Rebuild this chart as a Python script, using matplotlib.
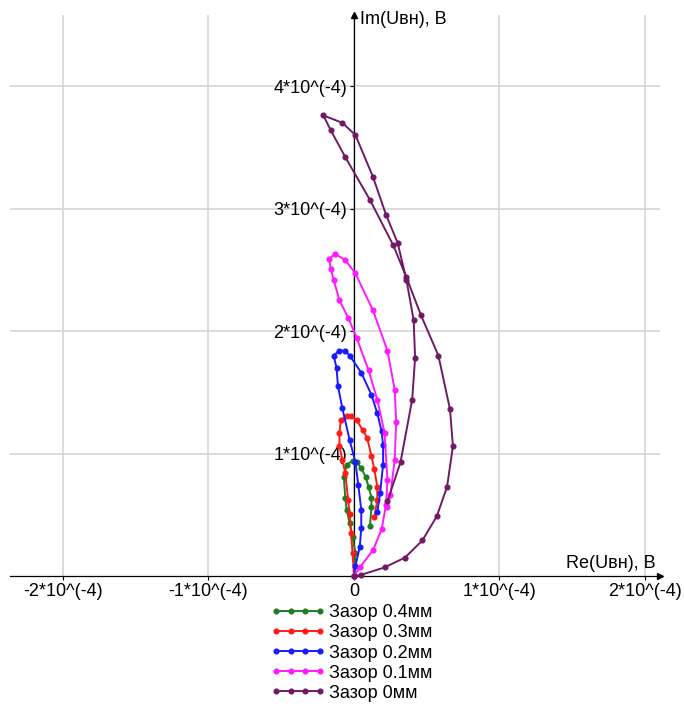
import numpy as np
import matplotlib
matplotlib.use("Agg")
import matplotlib.pyplot as plt

plt.rcParams['font.family'] = ['Liberation Sans', 'DejaVu Sans']

# hodograph points, units of 1e-4 V
re_04 = [0, 0.01, -0.01, -0.03, -0.05, -0.06, -0.07, -0.05, -0.01, 0.02, 0.05, 0.08, 0.10, 0.12, 0.12, 0.11]
im_04 = [0, 0.19, 0.32, 0.43, 0.54, 0.64, 0.81, 0.91, 0.94, 0.93, 0.88, 0.81, 0.73, 0.64, 0.56, 0.41]

re_03 = [0, -0.01, -0.02, -0.03, -0.04, -0.06, -0.08, -0.10, -0.10, -0.09, -0.05, -0.02, 0.02, 0.06, 0.09,
         0.12, 0.14, 0.16, 0.16, 0.14]
im_03 = [0, 0.19, 0.35, 0.51, 0.62, 0.84, 0.95, 1.06, 1.17, 1.27, 1.31, 1.31, 1.27, 1.19, 1.13,
         0.98, 0.87, 0.73, 0.62, 0.48]

re_02 = [0, 0.01, 0.04, 0.05, 0.05, 0.03, 0.01, -0.03, -0.08, -0.11, -0.12, -0.14, -0.10, -0.06, -0.03,
         0.05, 0.12, 0.16, 0.19, 0.20, 0.20, 0.18, 0.16]
im_02 = [0, 0.08, 0.24, 0.39, 0.54, 0.74, 0.93, 1.11, 1.37, 1.55, 1.70, 1.80, 1.84, 1.84, 1.80,
         1.66, 1.48, 1.33, 1.18, 1.07, 0.91, 0.68, 0.52]

re_01 = [0, 0.04, 0.13, 0.19, 0.22, 0.23, 0.21, 0.16, 0.10, 0.02, -0.04, -0.10, -0.14, -0.16, -0.17,
         -0.13, -0.06, 0.01, 0.13, 0.23, 0.28, 0.29, 0.28, 0.25, 0.23]
im_01 = [0, 0.07, 0.21, 0.38, 0.58, 0.78, 1.17, 1.44, 1.68, 1.94, 2.11, 2.25, 2.42, 2.51, 2.59,
         2.63, 2.58, 2.47, 2.17, 1.84, 1.52, 1.26, 0.95, 0.66, 0.56]

re_00 = [0, 0.05, 0.21, 0.35, 0.47, 0.57, 0.64, 0.68, 0.66, 0.58, 0.46, 0.36, 0.27, 0.11, -0.06, -0.16,
         -0.21, -0.08, 0.01, 0.13, 0.22, 0.30, 0.36, 0.41, 0.42, 0.40, 0.32, 0.23]
im_00 = [0, 0.01, 0.07, 0.15, 0.29, 0.49, 0.73, 1.06, 1.36, 1.80, 2.13, 2.44, 2.70, 3.07, 3.42, 3.64,
         3.76, 3.70, 3.60, 3.26, 2.95, 2.72, 2.42, 2.09, 1.78, 1.44, 0.93, 0.61]

series_re = [re_04, re_03, re_02, re_01, re_00]
series_im = [im_04, im_03, im_02, im_01, im_00]
labels = ["Зазор 0.4мм", "Зазор 0.3мм", "Зазор 0.2мм", "Зазор 0.1мм", "Зазор 0мм"]
colors = ["#1e7d1e", "#ff1a1a", "#1a1aff", "#ff1aff", "#701a66"]

tick_vals = [-2, -1, 0, 1, 2]
tick_labels = ["-2*10^(-4)", "-1*10^(-4)", "0", "1*10^(-4)", "2*10^(-4)"]
ytick_vals = [1, 2, 3, 4]
ytick_labels = ["1*10^(-4)", "2*10^(-4)", "3*10^(-4)", "4*10^(-4)"]

fs = 13

fig = plt.figure(figsize=(6.84, 7.04), dpi=100)
ax = fig.add_axes([0.0146, 0.1818, 0.9503, 0.7969])

for xs, ys, lab, col in zip(series_re, series_im, labels, colors):
    ax.plot(xs, ys, color=col, lw=1.4, marker='o', ms=3.4, label=lab, clip_on=False, zorder=3)

ax.set_xlim(-2.364, 2.103)
ax.set_ylim(0, 4.58)

ax.spines['left'].set_position(('data', 0))
ax.spines['bottom'].set_position(('data', 0))
ax.spines['top'].set_visible(False)
ax.spines['right'].set_visible(False)
ax.spines['left'].set_linewidth(0.9)
ax.spines['bottom'].set_linewidth(0.9)

ax.set_xticks(tick_vals)
ax.set_xticklabels(tick_labels, fontsize=fs)
ax.set_yticks(ytick_vals)
ax.set_yticklabels(ytick_labels, fontsize=fs)
ax.tick_params(length=3, width=0.8, pad=2)
ax.grid(True, color='#d6d6d6', lw=1.2, zorder=0)
ax.set_axisbelow(True)

# axis arrows
ax.plot(1, 0, ">k", ms=4, transform=ax.get_yaxis_transform(), clip_on=False)
ax.plot(0, 1, "^k", ms=4, transform=ax.get_xaxis_transform(), clip_on=False)

ax.text(2.07, 0.106, "Re(Uвн), В", fontsize=fs, ha='right', va='center')
ax.text(0.04, 4.54, "Im(Uвн), В", fontsize=fs, ha='left', va='center')

fig.legend(loc='center', bbox_to_anchor=(0.514, 0.0724), frameon=False, fontsize=fs,
           numpoints=4, handlelength=3.0, handletextpad=0.2, labelspacing=0.17)

fig.savefig("out.png", dpi=100)
